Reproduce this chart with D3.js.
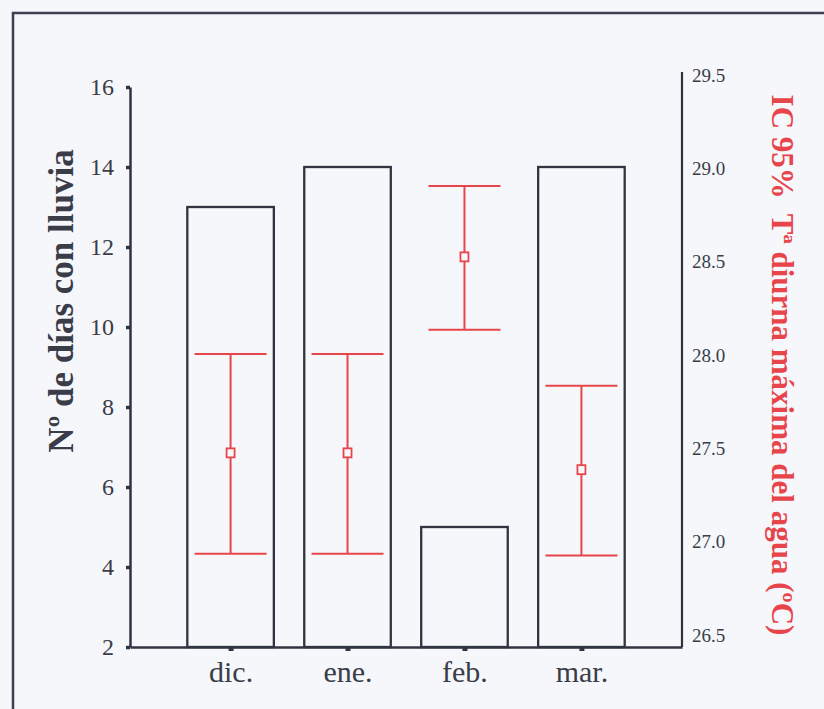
<!DOCTYPE html>
<html>
<head>
<meta charset="utf-8">
<script src="https://cdn.jsdelivr.net/npm/d3@7"></script>
<style>
  body { margin: 0; background: #f5f7fb; }
  svg { display: block; }
  .axis text { font-family: "Liberation Serif", "Times New Roman", serif; fill: #3a3d48; }
  .axis path, .axis line { stroke: #2f3440; }
</style>
</head>
<body>
<svg id="chart" width="824" height="709"></svg>
<script>
// data
var months = ["dic.", "ene.", "feb.", "mar."];
var rainDays = [13, 14, 5, 14];
var tempLow = [27.0, 27.0, 28.2, 26.99];
var tempMean = [27.54, 27.54, 28.59, 27.45];
var tempHigh = [28.07, 28.07, 28.97, 27.9];
var leftTicks = [2, 4, 6, 8, 10, 12, 14, 16];
var rightTicks = [26.5, 27.0, 27.5, 28.0, 28.5, 29.0, 29.5];

var svg = d3.select("#chart");
var dark = "#2f3440", red = "#e8454b";

// frame round the figure
svg.append("path")
  .attr("d", "M13,709 V13 H824")
  .attr("fill", "none")
  .attr("stroke", "#3b404c")
  .attr("stroke-width", 2.5);

var x0 = 130, x1 = 682, yTop = 87, yBot = 647;

var x = d3.scalePoint()
  .domain(months)
  .range([x0, x1])
  .padding(0.86);

var yL = d3.scaleLinear().domain([2, 16]).range([yBot, yTop]);
var yR = d3.scaleLinear().domain([26.5, 29.5]).range([yBot, yTop]);

var barW = x.step() * 0.74;

// bars (rain days)
svg.append("g").selectAll("rect")
  .data(months)
  .enter().append("rect")
  .attr("x", function(d) { return x(d) - barW / 2; })
  .attr("y", function(d, i) { return yL(rainDays[i]); })
  .attr("width", barW)
  .attr("height", function(d, i) { return yL(2) - yL(rainDays[i]); })
  .attr("fill", "none")
  .attr("stroke", dark)
  .attr("stroke-width", 2.3);

// error bars (IC 95%)
var capW = 36;
var eb = svg.append("g").selectAll("g")
  .data(months)
  .enter().append("g")
  .attr("stroke", red)
  .attr("stroke-width", 2);

eb.append("line")
  .attr("x1", function(d) { return x(d); })
  .attr("x2", function(d) { return x(d); })
  .attr("y1", function(d, i) { return yR(tempLow[i]); })
  .attr("y2", function(d, i) { return yR(tempHigh[i]); });

eb.append("line")
  .attr("x1", function(d) { return x(d) - capW; })
  .attr("x2", function(d) { return x(d) + capW; })
  .attr("y1", function(d, i) { return yR(tempHigh[i]); })
  .attr("y2", function(d, i) { return yR(tempHigh[i]); });

eb.append("line")
  .attr("x1", function(d) { return x(d) - capW; })
  .attr("x2", function(d) { return x(d) + capW; })
  .attr("y1", function(d, i) { return yR(tempLow[i]); })
  .attr("y2", function(d, i) { return yR(tempLow[i]); });

eb.append("rect")
  .attr("x", function(d) { return x(d) - 4; })
  .attr("y", function(d, i) { return yR(tempMean[i]) - 4.5; })
  .attr("width", 8)
  .attr("height", 9)
  .attr("fill", "#f5f7fb")
  .attr("stroke-width", 1.8);

// left axis
var gL = svg.append("g")
  .attr("class", "axis")
  .attr("transform", "translate(" + x0 + ",0)")
  .call(d3.axisLeft(yL).tickValues(leftTicks).tickSize(4).tickSizeOuter(0).tickPadding(12));
gL.select(".domain").attr("stroke-width", 2.5);
gL.selectAll(".tick line").attr("stroke-width", 3.5);
gL.selectAll(".tick text").style("font-size", "24px");

// right axis
var gR = svg.append("g")
  .attr("class", "axis")
  .attr("transform", "translate(" + x1 + ",0)")
  .call(d3.axisRight(yR).tickValues(rightTicks).tickFormat(d3.format(".1f")).tickSize(0).tickSizeOuter(0).tickPadding(10));
gR.select(".domain").attr("stroke-width", 2.2).attr("d", "M0," + yBot + "V" + (yTop - 15));
gR.selectAll(".tick text").style("font-size", "19px").attr("dy", "-0.3em");

// bottom axis
var gB = svg.append("g")
  .attr("class", "axis")
  .attr("transform", "translate(0," + yBot + ")")
  .call(d3.axisBottom(x).tickSize(4).tickSizeOuter(0).tickPadding(10));
gB.select(".domain").attr("stroke-width", 2.5);
gB.selectAll(".tick line").attr("stroke-width", 5);
gB.selectAll(".tick text").style("font-size", "30px");

// axis titles
svg.append("text")
  .attr("transform", "translate(73," + 301 + ") rotate(-90)")
  .attr("text-anchor", "middle")
  .style("font-family", "'Liberation Serif', serif")
  .style("font-weight", "bold")
  .style("font-size", "35px")
  .attr("fill", "#3a3d48")
  .text("Nº de días con lluvia");

svg.append("text")
  .attr("transform", "translate(772," + 365 + ") rotate(90)")
  .attr("text-anchor", "middle")
  .style("font-family", "'Liberation Serif', serif")
  .style("font-weight", "bold")
  .style("font-size", "31px")
  .attr("fill", red)
  .attr("xml:space", "preserve")
  .text("IC 95%  Tª diurna máxima del agua (ºC)");
</script>
</body>
</html>
